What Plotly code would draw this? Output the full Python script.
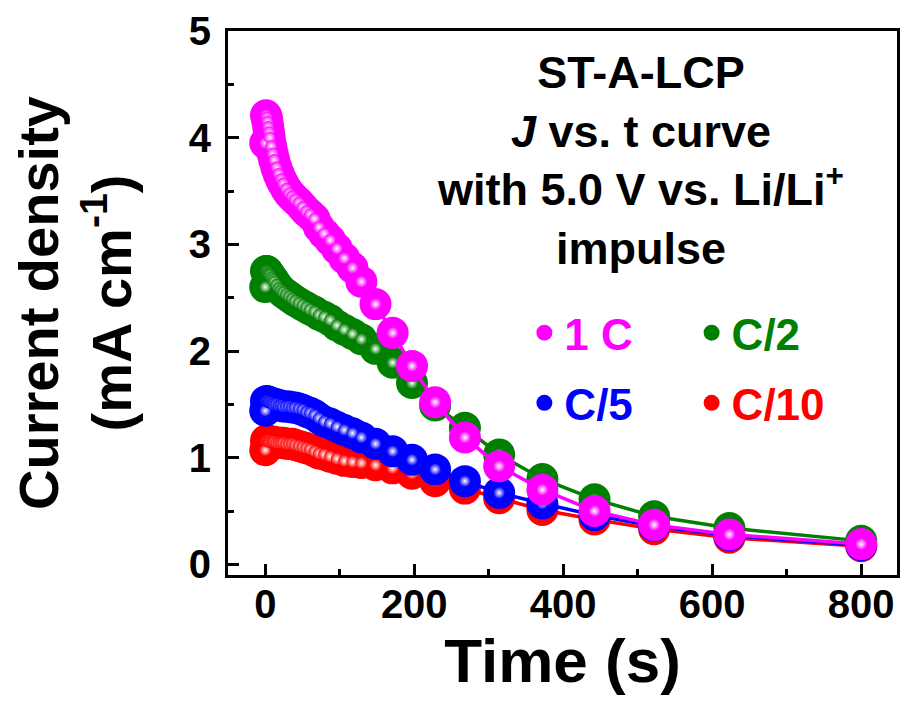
import plotly.graph_objects as go

# Time (s) sampling shared by all series
time_s = [0, 1, 2, 3, 4, 5, 6, 8, 10, 12, 15, 18, 21, 24, 28, 32, 36, 40, 45, 50,
          55, 60, 66, 72, 79, 87, 96, 106, 117, 129, 148, 171, 197, 228, 268, 314,
          372, 442, 522, 623, 800]

j_1c = [3.95, 4.21, 4.19, 4.15, 4.10, 4.05, 4.00, 3.92, 3.85, 3.79, 3.72, 3.66, 3.61,
        3.57, 3.52, 3.48, 3.45, 3.42, 3.39, 3.35, 3.31, 3.28, 3.24, 3.16, 3.10, 3.04,
        2.96, 2.87, 2.78, 2.65, 2.44, 2.17, 1.86, 1.52, 1.19, 0.92, 0.70, 0.50, 0.37,
        0.28, 0.19]
j_c2 = [2.60, 2.75, 2.75, 2.74, 2.73, 2.72, 2.71, 2.69, 2.67, 2.65, 2.62, 2.59, 2.57,
        2.55, 2.53, 2.51, 2.49, 2.47, 2.45, 2.43, 2.41, 2.39, 2.37, 2.34, 2.32, 2.29,
        2.24, 2.20, 2.16, 2.11, 2.02, 1.89, 1.70, 1.49, 1.28, 1.03, 0.80, 0.61, 0.45,
        0.34, 0.22]
j_c5 = [1.44, 1.53, 1.53, 1.53, 1.52, 1.52, 1.52, 1.51, 1.51, 1.50, 1.50, 1.49, 1.49,
        1.48, 1.48, 1.48, 1.47, 1.47, 1.46, 1.45, 1.43, 1.42, 1.40, 1.37, 1.34, 1.32,
        1.29, 1.26, 1.23, 1.19, 1.13, 1.06, 0.98, 0.89, 0.78, 0.67, 0.57, 0.46, 0.36,
        0.27, 0.18]
j_c10 = [1.07, 1.16, 1.16, 1.16, 1.16, 1.15, 1.15, 1.15, 1.15, 1.15, 1.14, 1.14, 1.14,
         1.14, 1.13, 1.13, 1.13, 1.12, 1.11, 1.10, 1.09, 1.08, 1.06, 1.04, 1.03, 1.01,
         0.99, 0.97, 0.96, 0.95, 0.93, 0.90, 0.85, 0.78, 0.71, 0.62, 0.51, 0.42, 0.33,
         0.25, 0.17]

series_names = ["C/10", "C/5", "C/2", "1 C"]
series_values = [j_c10, j_c5, j_c2, j_1c]
series_colors = ["#ff0000", "#0000ff", "#008000", "#ff00ff"]
series_legend = ["legend2", "legend", "legend2", "legend"]
series_rank = [2, 2, 1, 1]

x_ticks = [0, 200, 400, 600, 800]
y_ticks = [0, 1, 2, 3, 4, 5]

FONT = "Liberation Sans, Arial, sans-serif"

fig = go.Figure()
for name, vals, col, leg, rank in zip(series_names, series_values, series_colors,
                                       series_legend, series_rank):
    fig.add_trace(go.Scatter(x=time_s, y=vals, mode="lines",
                             line=dict(color=col, width=3.5),
                             showlegend=False, hoverinfo="skip"))
    fig.add_trace(go.Scatter(x=time_s, y=vals, mode="markers",
                             name=f"<span style='color:{col}'>{name}</span>",
                             legend=leg, legendrank=rank, legendgroup=name,
                             marker=dict(color=col, size=32, line=dict(width=0))))
    fig.add_trace(go.Scatter(x=time_s, y=vals, mode="markers",
                             showlegend=False, hoverinfo="skip",
                             marker=dict(color=col, size=12, line=dict(width=0),
                                         gradient=dict(type="radial", color="white"))))

axis_common = dict(
    showline=True, linecolor="black", linewidth=3, mirror=True,
    ticks="inside", ticklen=11, tickwidth=3, tickcolor="black",
    showgrid=False, zeroline=False,
    tickfont=dict(family=FONT, size=40, color="black", weight="bold"),
)

fig.update_xaxes(
    range=[-50, 848], tickvals=x_ticks,
    minor=dict(dtick=100, ticks="inside", ticklen=6, tickwidth=3, tickcolor="black"),
    ticklabelstandoff=-8,
    title=dict(text="Time (s)", font=dict(family=FONT, size=62, color="black", weight="bold"),
               standoff=14),
    **axis_common,
)
fig.update_yaxes(
    range=[-0.1, 5.0], tickvals=y_ticks,
    minor=dict(dtick=0.5, ticks="inside", ticklen=6, tickwidth=3, tickcolor="black"),
    ticklabelstandoff=6,
    title=dict(text="Current density<br>(mA cm<sup>-1</sup>)",
               font=dict(family=FONT, size=56, color="black", weight="bold"), standoff=40),
    **axis_common,
)

legend_common = dict(
    xanchor="left", yanchor="top", bgcolor="rgba(0,0,0,0)",
    font=dict(family=FONT, size=44, weight="bold"), tracegroupgap=10,
    itemsizing="trace",
)
fig.update_layout(
    width=903, height=703,
    margin=dict(l=228, r=6, t=31, b=128, autoexpand=False),
    paper_bgcolor="white", plot_bgcolor="white",
    legend=dict(x=0.443, y=0.51, **legend_common),
    legend2=dict(x=0.693, y=0.51, **legend_common),
    annotations=[dict(
        text="ST-A-LCP<br><i>J</i> vs. t curve<br>with 5.0 V vs. Li/Li<sup>+</sup><br>impulse",
        xref="paper", yref="paper", x=0.616, y=0.975, xanchor="center", yanchor="top",
        showarrow=False, align="center",
        font=dict(family=FONT, size=45, color="black", weight="bold"),
    )],
)

fig.write_html("out.html", config={"displayModeBar": False},
               post_script="document.body.style.margin='0';document.body.style.overflow='hidden';")
